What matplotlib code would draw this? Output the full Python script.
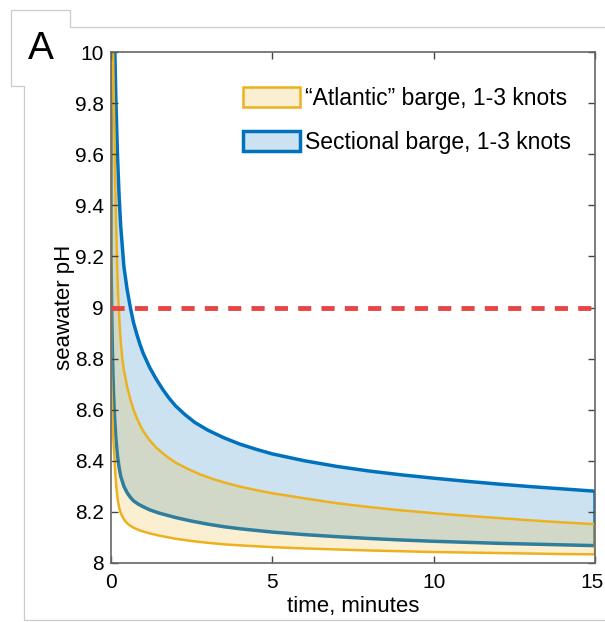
import matplotlib
matplotlib.use('Agg')
import matplotlib.pyplot as plt
import matplotlib.transforms as mtransforms
from matplotlib.lines import Line2D
import numpy as np

plt.rcParams['font.family'] = ['Liberation Sans', 'DejaVu Sans']

# values (time in minutes, seawater pH)
sect_up_t = [0, 0.05, 0.1, 0.15, 0.2, 0.25, 0.3, 0.4, 0.5, 0.6, 0.7, 0.8, 0.9, 1.0,
             1.2, 1.4, 1.6, 1.8, 2.0, 2.3, 2.6, 3.0, 3.5, 4.0, 4.5, 5, 6, 7, 8, 9,
             10, 11, 12, 13, 14, 15]
sect_up = [11.3, 10.6, 10.12, 9.82, 9.6, 9.44, 9.32, 9.16, 9.07, 9.0, 8.94, 8.895,
           8.855, 8.82, 8.765, 8.72, 8.68, 8.645, 8.615, 8.58, 8.55, 8.52, 8.49,
           8.465, 8.445, 8.427, 8.40, 8.378, 8.36, 8.345, 8.332, 8.32, 8.309,
           8.299, 8.29, 8.281]

sect_lo_t = [0, 0.02, 0.04, 0.06, 0.08, 0.1, 0.12, 0.15, 0.2, 0.25, 0.3, 0.4, 0.5,
             0.6, 0.7, 0.85, 1.0, 1.2, 1.5, 2.0, 2.5, 3.0, 3.5, 4, 5, 6, 7, 8, 9,
             10, 11, 12, 13, 14, 15]
sect_lo = [9.2, 9.0, 8.85, 8.74, 8.66, 8.6, 8.55, 8.49, 8.42, 8.375, 8.34, 8.3,
           8.275, 8.257, 8.243, 8.23, 8.22, 8.208, 8.195, 8.178, 8.164, 8.152,
           8.142, 8.134, 8.121, 8.111, 8.103, 8.096, 8.09, 8.085, 8.081, 8.077,
           8.074, 8.071, 8.068]

atl_up_t = [0, 0.04, 0.07, 0.1, 0.13, 0.16, 0.19, 0.22, 0.26, 0.3, 0.35, 0.4, 0.5,
            0.6, 0.7, 0.8, 0.9, 1.0, 1.2, 1.4, 1.6, 1.8, 2.0, 2.4, 2.8, 3.2, 3.6,
            4.0, 4.5, 5, 6, 7, 8, 9, 10, 11, 12, 13, 14, 15]
atl_up = [10.9, 10.25, 9.95, 9.72, 9.5, 9.32, 9.17, 9.05, 8.95, 8.87, 8.8, 8.755,
          8.69, 8.64, 8.6, 8.567, 8.54, 8.516, 8.48, 8.452, 8.43, 8.41, 8.393,
          8.367, 8.345, 8.327, 8.312, 8.299, 8.285, 8.273, 8.253, 8.234, 8.219,
          8.206, 8.195, 8.185, 8.176, 8.167, 8.159, 8.152]

atl_lo_t = [0, 0.02, 0.04, 0.06, 0.08, 0.1, 0.12, 0.14, 0.16, 0.19, 0.22, 0.26,
            0.31, 0.38, 0.45, 0.55, 0.7, 0.9, 1.2, 1.5, 2.0, 2.5, 3.0, 3.5, 4.0,
            5, 6, 7, 8, 9, 10, 11, 12, 13, 14, 15]
atl_lo = [8.75, 8.66, 8.585, 8.52, 8.47, 8.425, 8.38, 8.34, 8.305, 8.265, 8.238,
          8.213, 8.193, 8.175, 8.162, 8.15, 8.138, 8.127, 8.116, 8.107, 8.095,
          8.086, 8.079, 8.073, 8.069, 8.062, 8.057, 8.053, 8.049, 8.046, 8.043,
          8.041, 8.039, 8.037, 8.035, 8.034]

threshold = 9.0
labels = ['\u201cAtlantic\u201d barge, 1-3 knots', 'Sectional barge, 1-3 knots']
xticks = [0, 5, 10, 15]
yticks = [8, 8.2, 8.4, 8.6, 8.8, 9, 9.2, 9.4, 9.6, 9.8, 10]
ytick_labels = ['8', '8.2', '8.4', '8.6', '8.8', '9', '9.2', '9.4', '9.6', '9.8', '10']

blue = '#0072BD'
yellow = '#EDB120'

W, H = 605, 622
fig = plt.figure(figsize=(W / 100, H / 100), dpi=100)
ax = fig.add_axes([111 / W, 1 - 563 / H, 484 / W, 511 / H])

# sectional barge band
bx = np.concatenate([sect_up_t, sect_lo_t[::-1]])
by = np.concatenate([sect_up, sect_lo[::-1]])
p_sect = ax.fill(bx, by, facecolor=(0, 0.447, 0.741, 0.2), edgecolor=blue,
                 linewidth=2.5, label=labels[1])[0]

# atlantic barge band, drawn on top
ax_ = np.concatenate([atl_up_t, atl_lo_t[::-1]])
ay_ = np.concatenate([atl_up, atl_lo[::-1]])
p_atl = ax.fill(ax_, ay_, facecolor=(0.929, 0.694, 0.125, 0.2), edgecolor=yellow,
                linewidth=1.8, label=labels[0])[0]

ax.axhline(threshold, color='#e64545', lw=3.5, dashes=(2.7, 2.1), zorder=5)

ax.set_xlim(0, 15)
ax.set_ylim(8, 10)
ax.set_xticks(xticks)
ax.set_yticks(yticks)
ax.set_yticklabels(ytick_labels)
ax.tick_params(direction='in', length=5, width=1, color='#444444',
               labelsize=15, top=True, right=True)
ax.tick_params(axis='y', pad=5)
ax.tick_params(axis='x', pad=7)
for s in ax.spines.values():
    s.set_color('#666666')
    s.set_linewidth(1.2)

# nudge the last x label so it stays inside the picture
last = ax.get_xticklabels()[-1]
last.set_transform(last.get_transform() +
                   mtransforms.ScaledTranslation(-3 / 100, 0, fig.dpi_scale_trans))

ax.set_xlabel('time, minutes', fontsize=16)
ax.set_ylabel('seawater pH', fontsize=16)
ax.xaxis.set_label_coords(0.5, -0.065)
ax.xaxis.label.set_va('top')
ax.yaxis.set_label_coords(-0.075, 0.5)

leg = ax.legend(handles=[p_atl, p_sect], loc='upper left',
                bbox_to_anchor=(243 / W, 1 - 87 / H), bbox_transform=fig.transFigure,
                frameon=False, fontsize=16.5, borderpad=0, borderaxespad=0,
                handlelength=2.5, handleheight=0.95, handletextpad=0.2,
                labelspacing=0.9)

# panel frame and "A" label box
def fline(pts):
    xs = [p[0] / W for p in pts]
    ys = [1 - p[1] / H for p in pts]
    fig.add_artist(Line2D(xs, ys, color='#cccccc', lw=0.9, transform=fig.transFigure))

fline([(11, 86), (11, 10), (70, 10), (70, 27), (605, 27)])
fline([(11, 86), (24, 86), (24, 620), (605, 620)])
fig.text(41 / W, 1 - 49 / H, 'A', fontsize=28, ha='center', va='center')

fig.savefig('out.png', dpi=100)
